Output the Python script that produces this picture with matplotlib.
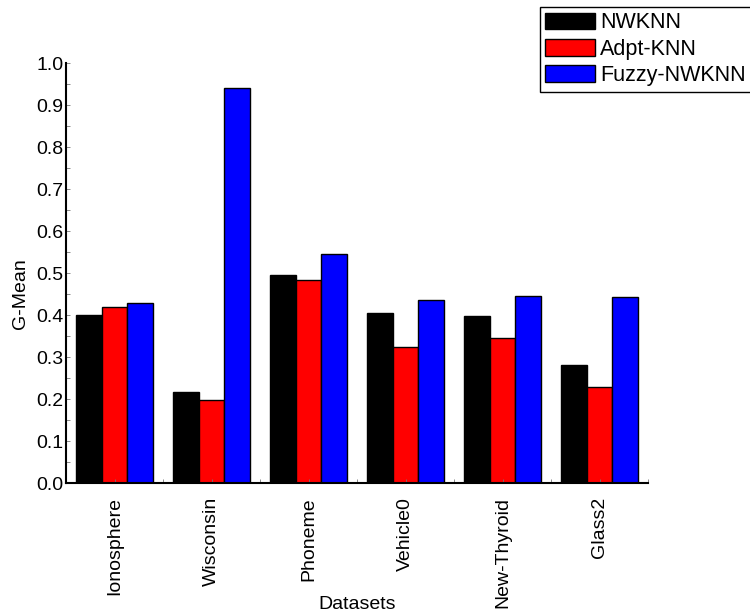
import matplotlib.pyplot as plt
import numpy as np
from matplotlib.ticker import MultipleLocator

plt.rcParams['font.family'] = ['Liberation Sans', 'DejaVu Sans']

datasets = ['Ionosphere', 'Wisconsin', 'Phoneme', 'Vehicle0', 'New-Thyroid', 'Glass2']
nwknn = [0.399, 0.216, 0.496, 0.405, 0.397, 0.281]
adpt_knn = [0.420, 0.198, 0.484, 0.323, 0.346, 0.228]
fuzzy_nwknn = [0.428, 0.940, 0.545, 0.436, 0.446, 0.443]

series = [('NWKNN', nwknn, 'black'),
          ('Adpt-KNN', adpt_knn, 'red'),
          ('Fuzzy-NWKNN', fuzzy_nwknn, 'blue')]

fig = plt.figure(figsize=(7.5, 6.15), dpi=100)
ax = fig.add_axes([66/750, 1-483/615, (648-66)/750, (483-63)/615])

x = np.arange(1, len(datasets) + 1)
w = 0.8 / 3
for i, (name, vals, col) in enumerate(series):
    ax.bar(x + (i - 1) * w, vals, w, color=col, edgecolor='black',
           linewidth=1, label=name)

ax.set_xlim(0.5, 6.5)
ax.set_ylim(0, 1.0)
ax.set_xticks(x)
ax.set_xticklabels(datasets, rotation=90, fontsize=14)
ax.xaxis.set_minor_locator(MultipleLocator(0.5))
ax.yaxis.set_major_locator(MultipleLocator(0.1))
ax.yaxis.set_minor_locator(MultipleLocator(0.05))
ax.yaxis.set_major_formatter(plt.FormatStrFormatter('%.1f'))
ax.tick_params(axis='y', labelsize=14)
ax.tick_params(which='both', direction='in', length=3, width=0.6, color='#777777')
ax.tick_params(axis='x', pad=10)
ax.tick_params(axis='y', pad=2)

for s in ['top', 'right']:
    ax.spines[s].set_visible(False)
for s in ['left', 'bottom']:
    ax.spines[s].set_linewidth(1.5)

ax.set_ylabel('G-Mean', fontsize=14)
ax.yaxis.set_label_coords((29 - 66) / 582, (483 - 294) / 420)
ax.set_xlabel('Datasets', fontsize=14)
ax.xaxis.set_label_coords(0.5, (483 - 596) / 420)

fig.legend(loc='upper left', bbox_to_anchor=(540/750, 1-7/615), fontsize=15.5,
           handlelength=2.3, handleheight=0.8, labelspacing=0.25,
           handletextpad=0.25, borderpad=0.25, borderaxespad=0,
           fancybox=False, framealpha=1, edgecolor='black')

fig.savefig('out.png', dpi=100)
